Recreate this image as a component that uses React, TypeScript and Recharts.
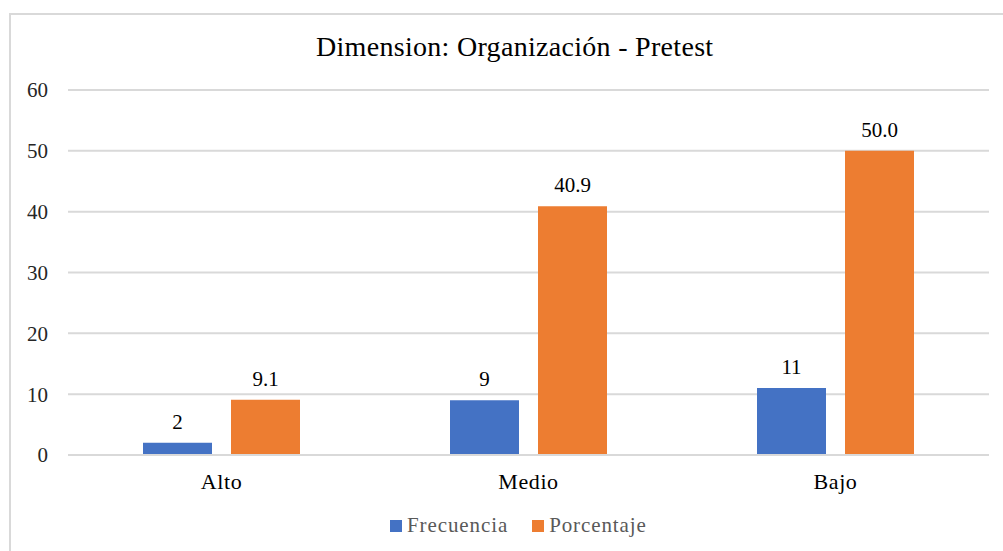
import { BarChart, Bar, CartesianGrid, XAxis, YAxis, Legend, LabelList } from "recharts";

const categories = ["Alto", "Medio", "Bajo"];
const frecuencia = [2, 9, 11];
const porcentaje = [9.1, 40.9, 50.0];
const yTicks = [0, 10, 20, 30, 40, 50, 60];

const data = categories.map((nivel, i) => ({
  nivel,
  Frecuencia: frecuencia[i],
  Porcentaje: porcentaje[i],
}));

const FONT = '"Liberation Serif", Tinos, "Times New Roman", "DejaVu Serif", serif';
const GRID = "#d9d9d9";

function LegendBox(props: any) {
  const items = props.payload || [];
  return (
    <div style={{ display: "flex", alignItems: "center", fontFamily: FONT, fontSize: 21, lineHeight: "21px", color: "#595959", letterSpacing: 0.9 }}>
      {items.map((it: any) => (
        <div key={it.value} style={{ display: "flex", alignItems: "center", marginRight: 24 }}>
          <span style={{ width: 12, height: 12, background: it.color, marginRight: 5, display: "inline-block" }} />
          <span>{it.value}</span>
        </div>
      ))}
    </div>
  );
}

export default function App() {
  return (
    <div style={{ position: "absolute", left: 0, top: 0, width: 1003, height: 551, overflow: "hidden", background: "#fff", fontFamily: FONT }}>
      <div style={{ position: "absolute", left: 9, top: 13, width: 1010, height: 560, border: `2px solid ${GRID}` }} />
      <div style={{ position: "absolute", left: 316, top: 33, fontSize: 28, lineHeight: "28px", letterSpacing: 0.3, whiteSpace: "nowrap", color: "#000", fontFamily: FONT }}>
        Dimension: Organización - Pretest
      </div>
      <div style={{ position: "absolute", left: 0, top: 0, fontFamily: FONT }}>
        <BarChart width={1003} height={551} data={data} margin={{ top: 90, right: 14, left: 0, bottom: 36 }} barSize={69} barGap={19} style={{ fontFamily: FONT }}>
          <CartesianGrid vertical={false} stroke={GRID} strokeWidth={2} />
          <XAxis
            dataKey="nivel"
            height={60}
            tickLine={false}
            tickSize={0}
            tickMargin={18}
            axisLine={{ stroke: GRID, strokeWidth: 2 }}
            tick={{ fontSize: 22, fill: "#000", letterSpacing: 0.6, fontFamily: FONT }}
          />
          <YAxis
            width={68}
            domain={[0, 60]}
            ticks={yTicks}
            axisLine={false}
            tickLine={false}
            tickSize={0}
            tickMargin={20}
            tick={{ fontSize: 21, fill: "#262626", fontFamily: FONT }}
          />
          <Legend
            verticalAlign="middle"
            align="center"
            layout="horizontal"
            wrapperStyle={{ left: 390, top: 515, width: 320, height: 21 }}
            content={<LegendBox />}
          />
          <Bar dataKey="Frecuencia" fill="#4472C4" isAnimationActive={false}>
            <LabelList dataKey="Frecuencia" position="top" offset={14} fill="#000" fontSize={21} fontFamily={FONT} />
          </Bar>
          <Bar dataKey="Porcentaje" fill="#ED7D31" isAnimationActive={false}>
            <LabelList dataKey="Porcentaje" position="top" offset={14} fill="#000" fontSize={21} fontFamily={FONT} formatter={(v: any) => Number(v).toFixed(1)} />
          </Bar>
        </BarChart>
      </div>
    </div>
  );
}
